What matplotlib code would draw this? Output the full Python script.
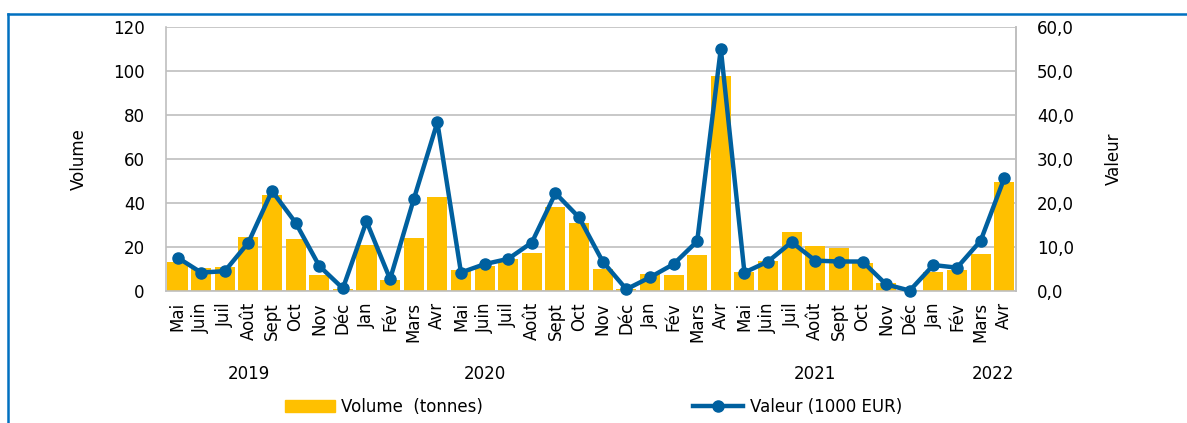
import matplotlib.pyplot as plt
from matplotlib.lines import Line2D
from matplotlib.patches import Patch

# months May 2019 -> Apr 2022
months = ["Mai", "Juin", "Juil", "Août", "Sept", "Oct", "Nov", "Déc",
          "Jan", "Fév", "Mars", "Avr", "Mai", "Juin", "Juil", "Août", "Sept", "Oct", "Nov", "Déc",
          "Jan", "Fév", "Mars", "Avr", "Mai", "Juin", "Juil", "Août", "Sept", "Oct", "Nov", "Déc",
          "Jan", "Fév", "Mars", "Avr"]
years = ["2019", "2020", "2021", "2022"]
year_pos = [3, 13, 27, 34.5]

volume = [13.0, 10.6, 10.8, 24.4, 43.5, 23.8, 7.4, 1.1,
          20.9, 5.0, 23.9, 42.6, 9.5, 11.4, 14.4, 17.4, 38.3, 31.1, 10.2, 1.0,
          7.7, 7.3, 16.4, 97.7, 8.8, 13.5, 26.8, 20.6, 19.7, 12.6, 3.5, 0.3,
          8.8, 9.5, 16.7, 49.4]
valeur = [7.6, 4.2, 4.5, 11.0, 22.7, 15.5, 5.7, 0.6,
          15.8, 2.7, 20.8, 38.3, 4.2, 6.1, 7.3, 11.0, 22.2, 16.7, 6.7, 0.4,
          3.1, 6.1, 11.3, 55.0, 4.2, 6.7, 11.1, 6.9, 6.7, 6.7, 1.5, 0.1,
          5.9, 5.3, 11.4, 25.6]

yellow = "#FFC000"
blue = "#00609F"
grey = "#BFBFBF"

fig = plt.figure(figsize=(11.87, 4.23), dpi=100)
ax = fig.add_axes([0.1396, 0.312, 0.7164, 0.625])
x = list(range(len(months)))

ax.bar(x, volume, width=0.85, color=yellow, zorder=2)
ax.set_xlim(-0.5, len(months) - 0.5)
ax.set_ylim(0, 120)
ax.set_yticks(range(0, 121, 20))
ax.grid(axis="y", color=grey, linewidth=1.2, zorder=0)
ax.set_axisbelow(True)
ax.set_xticks(x)
ax.set_xticklabels(months, rotation=90, fontsize=12)
ax.tick_params(axis="x", length=0, pad=8)
ax.tick_params(axis="y", length=0, labelsize=12, pad=15)
for s in ["left", "bottom", "right"]:
    ax.spines[s].set_color(grey)
    ax.spines[s].set_linewidth(1.2)
ax.spines["top"].set_visible(False)
ax.set_ylabel("Volume", fontsize=12, labelpad=18)

ax2 = ax.twinx()
ax2.plot(x, valeur, color=blue, linewidth=3.2, marker="o", markersize=8, clip_on=False, zorder=3)
ax2.set_ylim(0, 60)
ax2.set_yticks(range(0, 61, 10))
ax2.set_yticklabels([f"{v},0" for v in range(0, 61, 10)])
ax2.tick_params(axis="y", length=0, labelsize=12, pad=15)
for s in ["left", "bottom", "top"]:
    ax2.spines[s].set_visible(False)
ax2.spines["right"].set_color(grey)
ax2.spines["right"].set_linewidth(1.2)
ax2.set_ylabel("Valeur", fontsize=12, labelpad=22)

# year labels under month labels
for yr, p in zip(years, year_pos):
    ax.text(p, -0.314, yr, transform=ax.get_xaxis_transform(), ha="center", va="center", fontsize=12)

handles = [Patch(color=yellow), Line2D([], [], color=blue, linewidth=3.2, marker="o", markersize=8)]
fig.legend(handles, ["Volume  (tonnes)", "Valeur (1000 EUR)"], loc="center", bbox_to_anchor=(0.5, 0.038),
           ncol=2, frameon=False, fontsize=12, columnspacing=12.6, handlelength=3, handletextpad=0.4)

# blue frame at top and left
fig.add_artist(Line2D([8 / 1187, 1], [1 - 14 / 423, 1 - 14 / 423], color="#0070C0", linewidth=1.8))
fig.add_artist(Line2D([8 / 1187, 8 / 1187], [0, 1 - 14 / 423], color="#0070C0", linewidth=1.8))

fig.savefig("out.png", dpi=100)
